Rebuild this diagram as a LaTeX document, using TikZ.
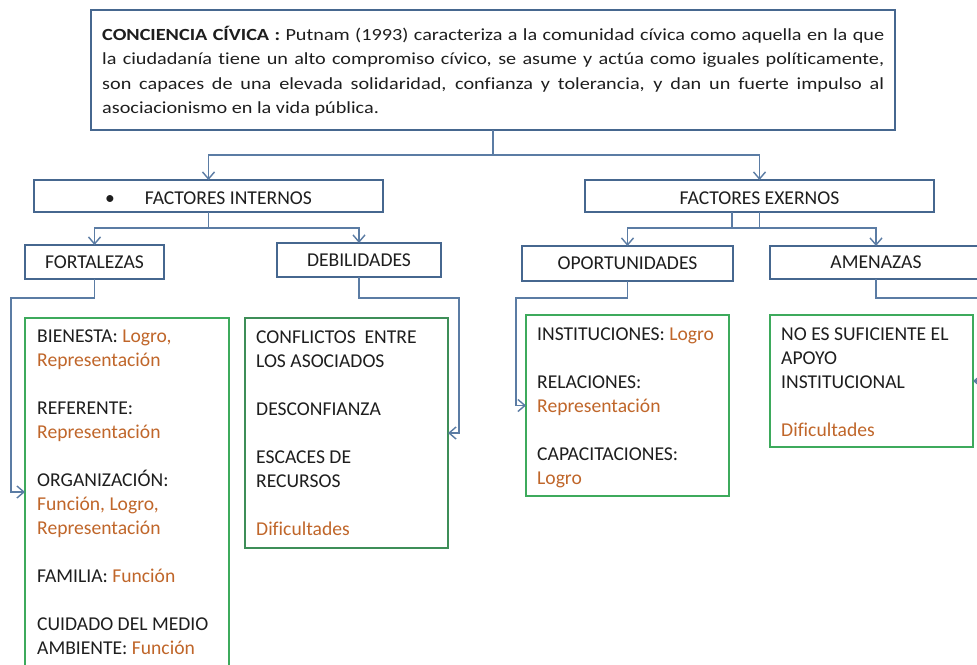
\documentclass[tikz,border=0pt]{standalone}
\usepackage{fontspec}
\setmainfont{Carlito}[Ligatures=NoCommon]
\newfontfamily\topfont{Carlito}[FakeStretch=1.19,Ligatures=NoCommon]
\usetikzlibrary{arrows.meta}
\definecolor{boxblue}{HTML}{46678F}
\definecolor{lineblue}{HTML}{5B7CA4}
\definecolor{boxgreen}{HTML}{3DAA5C}
\definecolor{boxgreend}{HTML}{3E8E58}
\definecolor{txt}{HTML}{1E1E1E}
\definecolor{orng}{HTML}{C0662A}
\newcommand{\og}[1]{\textcolor{orng}{#1}}
\begin{document}
\begin{tikzpicture}[x=1pt,y=-1pt,
  hbox/.style={draw=boxblue,line width=1.7pt,anchor=north west,inner sep=0pt,outer sep=0pt,
    font=\fontsize{19.6}{24}\selectfont,text=txt},
  gbox/.style={draw=boxgreen,line width=1.5pt,anchor=north west,inner sep=0pt,outer sep=0pt},
  btext/.style={anchor=base west,inner sep=0pt,font=\fontsize{19.6}{24}\selectfont,text=txt},
  cl/.style={draw=lineblue,line width=1.6pt},
  openarrow/.style={-{Straight Barb[length=7pt,width=12pt,line width=1.4pt]}}
]
\useasboundingbox (0,0) rectangle (977,664);
\fill[white] (0,0) rectangle (977,664);
\clip (0,0) rectangle (977,664);

% top box
\node[hbox,minimum width=804pt,minimum height=120pt] (top) at (91,10) {};
\node[anchor=base west,inner sep=0pt,text=txt] (toptext) at (102,40) {\parbox[t]{782pt}{\topfont\fontsize{17}{24.5}\selectfont
\makebox[782pt][s]{\textbf{CONCIENCIA CÍVICA :} Putnam (1993) caracteriza a la comunidad cívica como aquella en la que}\\
\makebox[782pt][s]{la ciudadanía tiene un alto compromiso cívico, se asume y actúa como iguales políticamente,}\\
\makebox[782pt][s]{son capaces de una elevada solidaridad, confianza y tolerancia, y dan un fuerte impulso al}\\
asociacionismo en la vida pública.}};

% header boxes
\node[hbox,minimum width=349pt,minimum height=32pt,text height=16pt,text depth=0pt] (FI) at (34,180) {\textbullet\hspace{30pt}FACTORES INTERNOS};
\node[hbox,minimum width=349pt,minimum height=32pt,text height=16pt,text depth=0pt] (FE) at (585,180) {FACTORES EXERNOS};
\node[hbox,minimum width=139pt,minimum height=34pt] (FORT) at (25,245) {FORTALEZAS\hspace{15pt}};
\node[hbox,minimum width=164pt,minimum height=34pt] (DEB) at (277,243) {DEBILIDADES};
\node[hbox,minimum width=211pt,minimum height=35pt] (OPO) at (522,246) {OPORTUNIDADES};
\node[hbox,minimum width=212pt,minimum height=33pt] (AME) at (770,246) {AMENAZAS};

% green boxes
\node[gbox,minimum width=204pt,minimum height=348pt] (B1) at (25,318) {};
\node[gbox,draw=boxgreend,minimum width=203pt,minimum height=230pt] (B2) at (245,318) {};
\node[gbox,minimum width=203pt,minimum height=181pt] (B3) at (526,315) {};
\node[gbox,minimum width=203pt,minimum height=132pt] (B4) at (770,315) {};

\node[btext] (B1t) at (37,342.5) {\parbox[t]{190pt}{BIENESTA: \og{Logro,}\\
\og{Representación}\\[24pt]
REFERENTE:\\
\og{Representación}\\[24pt]
ORGANIZACIÓN:\\
\og{Función, Logro,}\\
\og{Representación}\\[24pt]
FAMILIA: \og{Función}\\[24pt]
CUIDADO DEL MEDIO\\
AMBIENTE: \og{Función}}};

\node[btext] (B2t) at (256,343.5) {\parbox[t]{190pt}{CONFLICTOS\ \ ENTRE\\
LOS ASOCIADOS\\[24pt]
DESCONFIANZA\\[24pt]
ESCACES DE\\
RECURSOS\\[24pt]
\og{Dificultades}}};

\node[btext] (B3t) at (537,340) {\parbox[t]{190pt}{INSTITUCIONES: \og{Logro}\\[24pt]
RELACIONES:\\
\og{Representación}\\[24pt]
CAPACITACIONES:\\
\og{Logro}}};

\node[btext] (B4t) at (781,340) {\parbox[t]{190pt}{NO ES SUFICIENTE EL\\
APOYO\\
INSTITUCIONAL\\[24pt]
\og{Dificultades}}};

% connectors
\coordinate (j1) at (493,155);
\draw[cl,openarrow] (top.south) -- (j1) -| (FI.north);
\draw[cl,openarrow] (j1) -| (FE.north);
\coordinate (j2) at (208.5,228);
\draw[cl,openarrow] (FI.south) -- (j2) -| (FORT.north);
\draw[cl,openarrow] (j2) -| (DEB.north);
\coordinate (j3) at (759.5,228);
\coordinate (j3b) at (732,228);
\draw[cl] (FE.south -| j3b) -- (j3b);
\draw[cl,openarrow] (FE.south) -- (j3) -| (OPO.north);
\draw[cl,openarrow] (j3) -| (AME.north);
\coordinate (k1) at (11,298);
\draw[cl,openarrow] (FORT.south) |- (k1) |- (B1.west);
\coordinate (k2) at (459,298);
\draw[cl,openarrow] (DEB.south) |- (k2) |- (B2.east);
\coordinate (k3) at (516,298);
\draw[cl,openarrow] (OPO.south) |- (k3) |- (B3.west);
\coordinate (k4) at (995,298);
\draw[cl,openarrow] (AME.south) |- (k4) |- (B4.east);
\end{tikzpicture}
\end{document}
